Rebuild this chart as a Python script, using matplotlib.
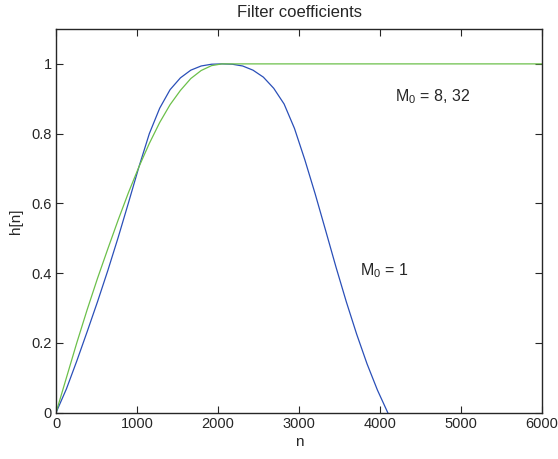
import matplotlib
matplotlib.use('Agg')
import matplotlib.pyplot as plt

plt.rcParams['font.family'] = ['Liberation Sans', 'DejaVu Sans']
plt.rcParams['mathtext.fontset'] = 'custom'
plt.rcParams['mathtext.rm'] = 'Liberation Sans'

# values
n_m1 = [0, 128, 256, 384, 512, 640, 768, 896, 1024, 1152, 1280, 1408, 1536,
        1664, 1792, 1920, 2048, 2176, 2304, 2432, 2560, 2688, 2816, 2944,
        3072, 3200, 3328, 3456, 3584, 3712, 3840, 3968, 4096]
h_m1 = [0, 0.068, 0.148, 0.232, 0.318, 0.408, 0.503, 0.603, 0.705, 0.80,
        0.873, 0.926, 0.96, 0.982, 0.994, 0.999, 1.0, 0.999, 0.994, 0.982,
        0.962, 0.93, 0.885, 0.815, 0.725, 0.627, 0.523, 0.418, 0.318, 0.225,
        0.14, 0.065, 0]

n_m8 = [0, 128, 256, 384, 512, 640, 768, 896, 1024, 1152, 1280, 1408, 1536,
        1664, 1792, 1920, 2048, 6000]
h_m8 = [0, 0.10, 0.20, 0.295, 0.385, 0.47, 0.553, 0.632, 0.705, 0.772, 0.832,
        0.883, 0.924, 0.958, 0.981, 0.995, 1.0, 1.0]

fig = plt.figure(figsize=(5.58, 4.59), dpi=100)
ax = fig.add_axes([0.1004, 0.1009, 0.8709, 0.8359])

ax.plot(n_m1, h_m1, color='#2a4fb8', linewidth=0.9)
ax.plot(n_m8, h_m8, color='#6cc04a', linewidth=0.9)

ax.set_xlim(0, 6000)
ax.set_ylim(0, 1.1)
ax.set_xticks([0, 1000, 2000, 3000, 4000, 5000, 6000])
ax.set_yticks([0, 0.2, 0.4, 0.6, 0.8, 1])
ax.set_yticklabels(['0', '0.2', '0.4', '0.6', '0.8', '1'])
ax.tick_params(direction='in', top=True, right=True, length=5, width=0.8,
               labelsize=10.5, colors='#262626', pad=3)
for s in ax.spines.values():
    s.set_linewidth(1.0)
    s.set_color('#262626')

ax.set_xlabel('n', fontsize=11, color='#262626', labelpad=3)
ax.set_ylabel('h[n]', fontsize=11, color='#262626', labelpad=6)
ax.set_title('Filter coefficients', fontsize=12, color='#262626', pad=8.5)

ax.text(4185, 0.892, r'$\mathregular{M_0}$ = 8, 32', fontsize=11.5,
        color='#262626', va='baseline')
ax.text(3753, 0.395, r'$\mathregular{M_0}$ = 1', fontsize=11.5,
        color='#262626', va='baseline')

fig.savefig('out.png', dpi=100)
